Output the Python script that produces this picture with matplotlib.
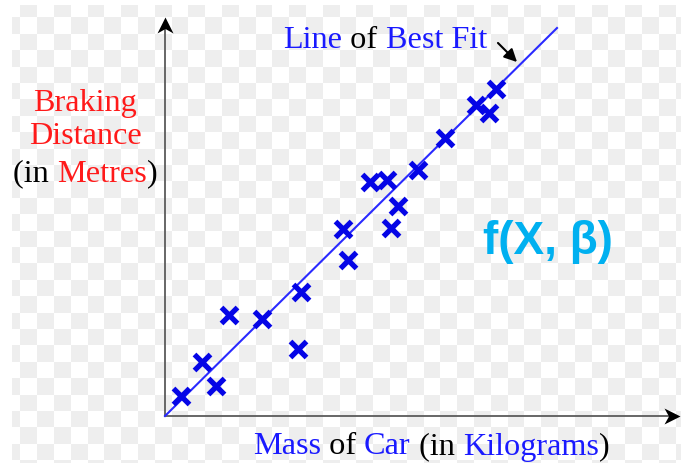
import numpy as np
import matplotlib.pyplot as plt
from matplotlib.path import Path
from matplotlib.offsetbox import TextArea, HPacker, AnnotationBbox

# values (arbitrary units, origin at the axis corner)
mass = [16, 37, 51, 64, 97, 136, 133, 178, 183, 205, 222, 233, 226, 253, 280, 311, 324, 331]
distance = [20, 54, 30, 101, 97, 124, 67, 187, 156, 234, 236, 210, 188, 246, 278, 311, 303, 327]

# line of best fit, end points
fit_x = [0, 392]
fit_y = [0, 388]

# label pieces: (text, colour)
y_label_rows = [
    [("Braking", "#ff1a1a")],
    [("Distance", "#ff1a1a")],
    [("(in ", "black"), ("Metres", "#ff1a1a"), (")", "black")],
]
x_label = [("Mass", "#1a1aff"), (" of ", "black"), ("Car", "#1a1aff"), (" (in ", "black"),
           ("Kilograms", "#1a1aff"), (")", "black")]
fit_label = [("Line", "#1a1aff"), (" of ", "black"), ("Best Fit", "#1a1aff")]

W, H = 681, 463
fig = plt.figure(figsize=(W / 100, H / 100), dpi=100)
ax = fig.add_axes([0, 0, 1, 1])
ax.set_xlim(-165, W - 165)
ax.set_ylim(416 - H, 416)
ax.axis("off")

# transparent-looking checker background
yy, xx = np.mgrid[0:H, 0:W]
col = np.floor((xx - 20) / 16.8).astype(int)
row = np.floor((yy - 17) / 16.4).astype(int)
gray = ((col + row) % 2 == 1) & (xx >= 12) & (yy >= 5)
bg = np.where(gray, 0.937, 1.0)
bg = np.dstack([bg, bg, bg])
ax.imshow(bg, extent=(-165, W - 165, 416 - H, 416), origin="upper",
          aspect="auto", interpolation="nearest", zorder=0)

# axes with arrow heads
x_tip, y_tip = 515, 399
ax.plot([0, x_tip - 6], [0, 0], color="#666666", lw=1.4, zorder=2)
ax.plot([0, 0], [0, y_tip - 6], color="#666666", lw=1.4, zorder=2)
up_head = Path([(0, 0), (-0.5, -1), (0, -0.72), (0.5, -1), (0, 0)])
right_head = Path([(0, 0), (-1, 0.5), (-0.72, 0), (-1, -0.5), (0, 0)])
ax.plot([0], [y_tip], marker=up_head, ms=23, color="black", mew=0, zorder=3)
ax.plot([x_tip], [0], marker=right_head, ms=23, color="black", mew=0, zorder=3)

# data
ax.plot(fit_x, fit_y, color="#2a2aff", lw=1.5, zorder=3)
ax.plot(mass, distance, "x", color="#0505e6", ms=11, mew=3.8, zorder=4)

# little arrow to the line
ax.annotate("", xy=(354, 352), xytext=(331, 375),
            arrowprops=dict(arrowstyle="-|>", color="black", lw=1.5, mutation_scale=19))


def colored_text(pieces, xy, size=23.2, family="Liberation Serif", weight="normal"):
    boxes = [TextArea(t, textprops=dict(color=c, fontsize=size, family=family, weight=weight))
             for t, c in pieces]
    pack = HPacker(children=boxes, align="baseline", pad=0, sep=0)
    ab = AnnotationBbox(pack, xy, xycoords="data", frameon=False, pad=0,
                        box_alignment=(0.5, 0.5), zorder=5)
    ax.add_artist(ab)


for pieces, y in zip(y_label_rows, [312, 280, 242]):
    colored_text(pieces, (-80, y))
colored_text(fit_label, (220, 376))
colored_text(x_label, (266, -31))
colored_text([("f(X, \u03b2)", "#00b0f0")], (383, 174), size=33,
             family="Liberation Sans", weight="bold")

fig.savefig("out.png", dpi=100)
